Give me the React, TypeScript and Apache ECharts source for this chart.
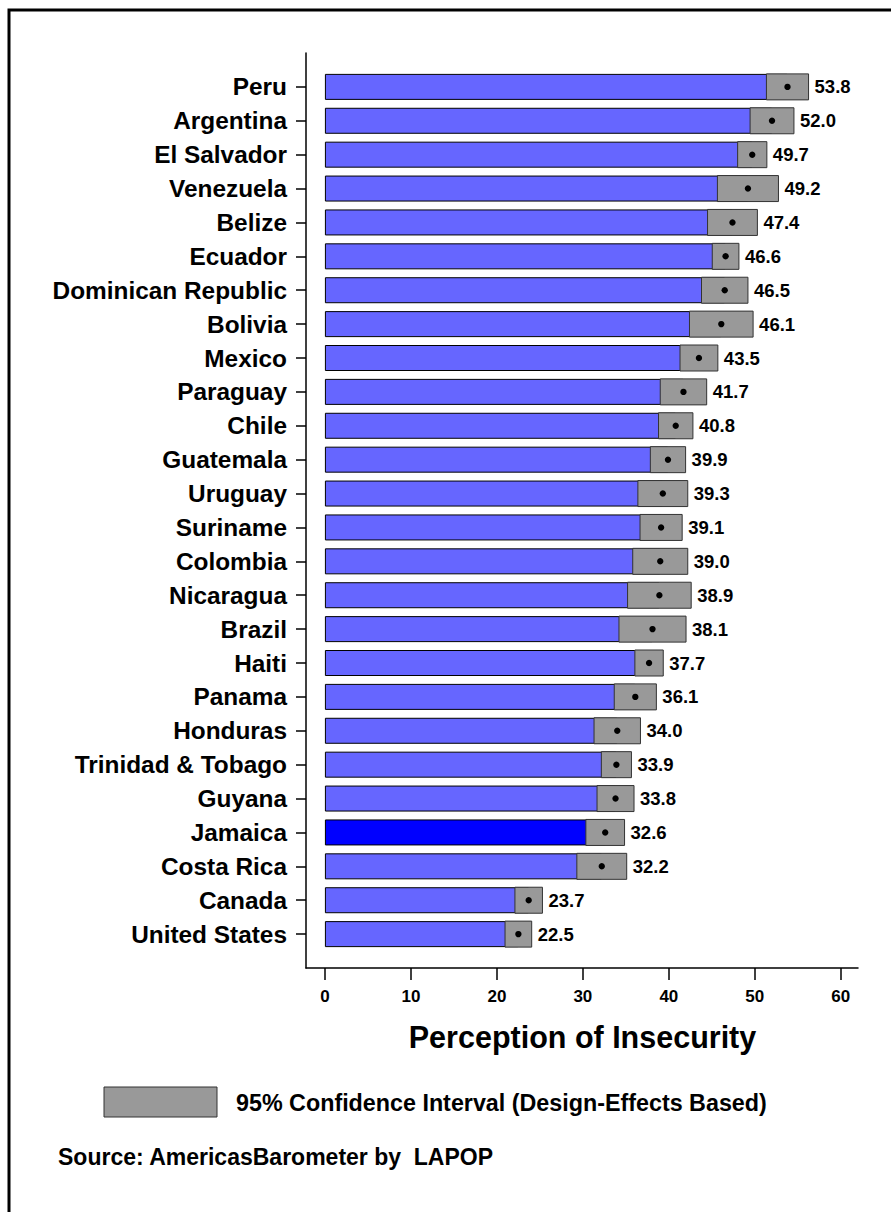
import React, { useEffect, useRef } from "react";
import * as echarts from "echarts";

const countries = [
  "Peru", "Argentina", "El Salvador", "Venezuela", "Belize", "Ecuador",
  "Dominican Republic", "Bolivia", "Mexico", "Paraguay", "Chile", "Guatemala",
  "Uruguay", "Suriname", "Colombia", "Nicaragua", "Brazil", "Haiti", "Panama",
  "Honduras", "Trinidad & Tobago", "Guyana", "Jamaica", "Costa Rica", "Canada",
  "United States",
];
const means = [
  53.8, 52.0, 49.7, 49.2, 47.4, 46.6, 46.5, 46.1, 43.5, 41.7, 40.8, 39.9,
  39.3, 39.1, 39.0, 38.9, 38.1, 37.7, 36.1, 34.0, 33.9, 33.8, 32.6, 32.2,
  23.7, 22.5,
];
const ciLower = [
  51.35, 49.45, 48.0, 45.65, 44.5, 45.05, 43.8, 42.4, 41.3, 39.0, 38.8, 37.85,
  36.4, 36.65, 35.8, 35.2, 34.2, 36.05, 33.65, 31.3, 32.15, 31.65, 30.35, 29.3,
  22.1, 20.95,
];
const ciUpper = [
  56.25, 54.55, 51.4, 52.75, 50.3, 48.15, 49.2, 49.8, 45.7, 44.4, 42.8, 41.95,
  42.2, 41.55, 42.2, 42.6, 42.0, 39.35, 38.55, 36.7, 35.65, 35.95, 34.85, 35.1,
  25.3, 24.05,
];
const highlighted = "Jamaica";
const xTicks = [0, 10, 20, 30, 40, 50, 60];

const FONT = '"Liberation Sans", Arial, sans-serif';

export default function App() {
  const ref = useRef<HTMLDivElement>(null);

  useEffect(() => {
    if (!ref.current) return;
    const chart = echarts.init(ref.current, undefined, { renderer: "svg" });
    const n = countries.length;
    const yCats = ["", ...countries, " "];

    const barData: any[] = ["-"];
    countries.forEach((c, i) => {
      if (c === highlighted) {
        barData.push({ value: means[i], itemStyle: { color: "#0000ff" } });
      } else {
        barData.push(means[i]);
      }
    });
    barData.push("-");

    const ciData = countries.map((c, i) => [ciLower[i], ciUpper[i], means[i], i + 1]);

    chart.setOption({
      animation: false,
      backgroundColor: "#ffffff",
      textStyle: { fontFamily: FONT },
      grid: { left: 306, right: 33, top: 53, bottom: 244, containLabel: false },
      xAxis: {
        type: "value",
        min: -2.2,
        max: 62,
        axisLine: { show: true, onZero: false, lineStyle: { color: "#000", width: 1.5 } },
        axisTick: {
          show: true,
          length: 12,
          customValues: xTicks,
          lineStyle: { color: "#000", width: 1.5 },
        },
        axisLabel: {
          customValues: xTicks,
          margin: 20,
          fontSize: 17,
          fontWeight: "bold",
          color: "#000",
          fontFamily: FONT,
        },
        splitLine: { show: false },
      },
      yAxis: {
        type: "category",
        data: yCats,
        inverse: true,
        boundaryGap: false,
        axisLine: { show: true, onZero: false, lineStyle: { color: "#000", width: 1.5 } },
        axisTick: {
          show: true,
          length: 10,
          interval: (idx: number) => idx > 0 && idx <= n,
          lineStyle: { color: "#000", width: 1.5 },
        },
        axisLabel: {
          interval: 0,
          margin: 19,
          fontSize: 24.4,
          fontWeight: "bold",
          color: "#000",
          fontFamily: FONT,
        },
        splitLine: { show: false },
      },
      series: [
        {
          name: "Perception of Insecurity",
          type: "bar",
          data: barData,
          barWidth: 26,
          itemStyle: { color: "#6666ff", borderColor: "#000", borderWidth: 1 },
          z: 2,
        },
        {
          name: "95% Confidence Interval (Design-Effects Based)",
          type: "custom",
          data: ciData,
          encode: { x: [0, 1], y: 3 },
          z: 3,
          itemStyle: { color: "#999999" },
          renderItem: (params: any, api: any) => {
            const yi = api.value(3);
            const lo = api.coord([api.value(0), yi]);
            const hi = api.coord([api.value(1), yi]);
            const m = api.coord([api.value(2), yi]);
            return {
              type: "group",
              children: [
                {
                  type: "rect",
                  shape: { x: lo[0], y: lo[1] - 13, width: hi[0] - lo[0], height: 26 },
                  style: { fill: "#999999", stroke: "#333333", lineWidth: 1 },
                },
                {
                  type: "circle",
                  shape: { cx: m[0], cy: m[1], r: 3.2 },
                  style: { fill: "#000000" },
                },
                {
                  type: "text",
                  x: hi[0] + 6,
                  y: hi[1],
                  style: {
                    text: Number(api.value(2)).toFixed(1),
                    fill: "#000",
                    font: `bold 18.5px ${FONT}`,
                    align: "left",
                    verticalAlign: "middle",
                  },
                },
              ],
            };
          },
        },
      ],
      graphic: [
        {
          type: "rect",
          silent: true,
          z: -10,
          shape: { x: 9, y: 10, width: 900, height: 1220 },
          style: { fill: "none", stroke: "#000", lineWidth: 3 },
        },
        {
          type: "text",
          x: 582.5,
          y: 1037,
          style: {
            text: "Perception of Insecurity",
            font: `bold 30.5px ${FONT}`,
            fill: "#000",
            align: "center",
            verticalAlign: "middle",
          },
        },
        {
          type: "rect",
          shape: { x: 104, y: 1087, width: 113, height: 30 },
          style: { fill: "#999999", stroke: "#333333", lineWidth: 1 },
        },
        {
          type: "text",
          x: 236,
          y: 1102.5,
          style: {
            text: "95% Confidence Interval (Design-Effects Based)",
            font: `bold 23.3px ${FONT}`,
            fill: "#000",
            align: "left",
            verticalAlign: "middle",
          },
        },
        {
          type: "text",
          x: 58,
          y: 1157,
          style: {
            text: "Source: AmericasBarometer by  LAPOP",
            font: `bold 23px ${FONT}`,
            fill: "#000",
            align: "left",
            verticalAlign: "middle",
          },
        },
      ],
    });

    return () => chart.dispose();
  }, []);

  return (
    <div
      ref={ref}
      style={{ position: "fixed", left: 0, top: 0, width: 891, height: 1212 }}
    />
  );
}
